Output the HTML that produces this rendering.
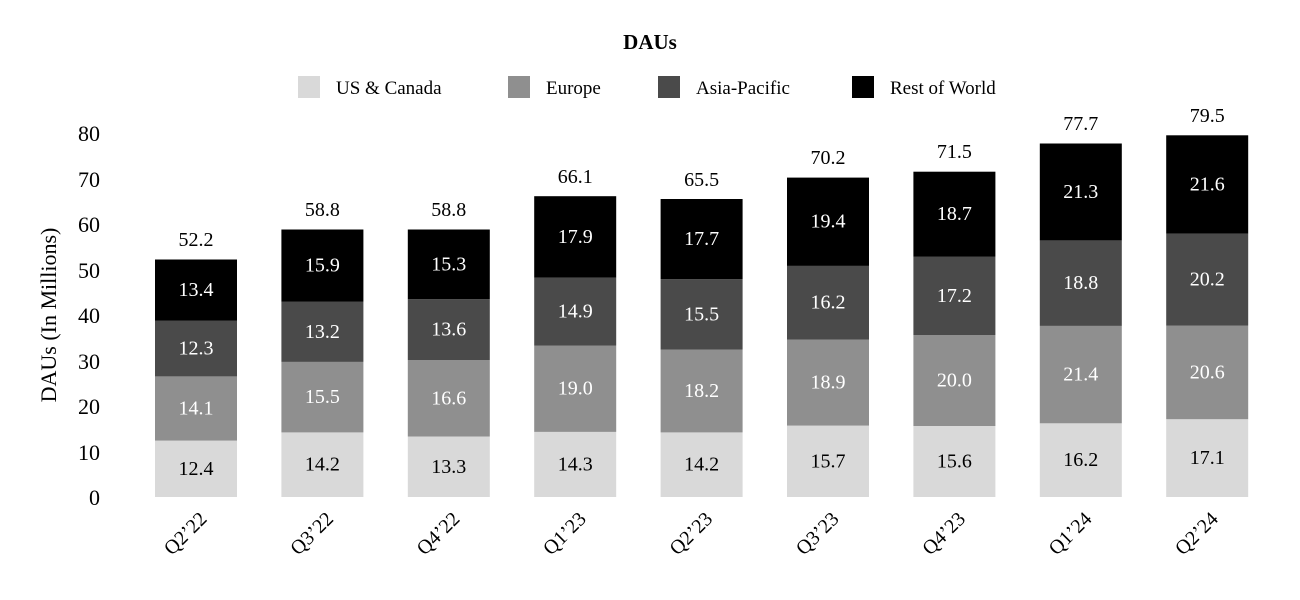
<!DOCTYPE html>
<html><head><meta charset="utf-8"><style>html,body{margin:0;padding:0;background:#fff}svg{display:block}</style></head>
<body>
<svg width="1300" height="600" xmlns="http://www.w3.org/2000/svg" font-family="Liberation Serif, serif">
<text x="650" y="49" text-anchor="middle" font-size="21" font-weight="bold">DAUs</text>
<rect x="298" y="76" width="22" height="22" fill="#d9d9d9"/><text x="336" y="94" font-size="19">US &amp; Canada</text>
<rect x="508" y="76" width="22" height="22" fill="#8f8f8f"/><text x="546" y="94" font-size="19">Europe</text>
<rect x="658" y="76" width="22" height="22" fill="#4a4a4a"/><text x="696" y="94" font-size="19">Asia-Pacific</text>
<rect x="852" y="76" width="22" height="22" fill="#000"/><text x="890" y="94" font-size="19">Rest of World</text>
<g font-size="22" text-anchor="end">
<text x="100" y="505">0</text><text x="100" y="460">10</text><text x="100" y="414">20</text><text x="100" y="369">30</text><text x="100" y="323">40</text><text x="100" y="278">50</text><text x="100" y="232">60</text><text x="100" y="187">70</text><text x="100" y="141">80</text>
</g>
<text transform="translate(56,315) rotate(-90)" text-anchor="middle" font-size="22">DAUs (In Millions)</text>
<g id="bars" font-size="20" text-anchor="middle" dominant-baseline="central">
<!-- bar0 -->
<rect x="155" y="440.6" width="82" height="56.4" fill="#d9d9d9"/><rect x="155" y="376.4" width="82" height="64.2" fill="#8f8f8f"/><rect x="155" y="320.5" width="82" height="55.9" fill="#4a4a4a"/><rect x="155" y="259.5" width="82" height="61" fill="#000"/>
<text x="196" y="469">12.4</text><text x="196" y="408.5" fill="#fff">14.1</text><text x="196" y="348.5" fill="#fff">12.3</text><text x="196" y="290" fill="#fff">13.4</text><text x="196" y="240">52.2</text>
<!-- bar1 -->
<rect x="281.4" y="432.4" width="82" height="64.6" fill="#d9d9d9"/><rect x="281.4" y="361.9" width="82" height="70.5" fill="#8f8f8f"/><rect x="281.4" y="301.8" width="82" height="60.1" fill="#4a4a4a"/><rect x="281.4" y="229.5" width="82" height="72.3" fill="#000"/>
<text x="322.4" y="464.7">14.2</text><text x="322.4" y="397.2" fill="#fff">15.5</text><text x="322.4" y="331.9" fill="#fff">13.2</text><text x="322.4" y="265.7" fill="#fff">15.9</text><text x="322.4" y="210">58.8</text>
<!-- bar2 -->
<rect x="407.8" y="436.5" width="82" height="60.5" fill="#d9d9d9"/><rect x="407.8" y="360" width="82" height="76.5" fill="#8f8f8f"/><rect x="407.8" y="299.1" width="82" height="60.9" fill="#4a4a4a"/><rect x="407.8" y="229.5" width="82" height="69.6" fill="#000"/>
<text x="448.8" y="466.8">13.3</text><text x="448.8" y="398.3" fill="#fff">16.6</text><text x="448.8" y="329.6" fill="#fff">13.6</text><text x="448.8" y="264.3" fill="#fff">15.3</text><text x="448.8" y="210">58.8</text>
<!-- bar3 -->
<rect x="534.2" y="431.9" width="82" height="65.1" fill="#d9d9d9"/><rect x="534.2" y="345.5" width="82" height="86.4" fill="#8f8f8f"/><rect x="534.2" y="277.7" width="82" height="67.8" fill="#4a4a4a"/><rect x="534.2" y="196.2" width="82" height="81.5" fill="#000"/>
<text x="575.2" y="464.5">14.3</text><text x="575.2" y="388.7" fill="#fff">19.0</text><text x="575.2" y="311.6" fill="#fff">14.9</text><text x="575.2" y="237" fill="#fff">17.9</text><text x="575.2" y="177">66.1</text>
<!-- bar4 -->
<rect x="660.6" y="432.4" width="82" height="64.6" fill="#d9d9d9"/><rect x="660.6" y="349.6" width="82" height="82.8" fill="#8f8f8f"/><rect x="660.6" y="279.1" width="82" height="70.5" fill="#4a4a4a"/><rect x="660.6" y="199" width="82" height="80.1" fill="#000"/>
<text x="701.6" y="464.7">14.2</text><text x="701.6" y="391" fill="#fff">18.2</text><text x="701.6" y="314.4" fill="#fff">15.5</text><text x="701.6" y="239" fill="#fff">17.7</text><text x="701.6" y="180">65.5</text>
<!-- bar5 -->
<rect x="787" y="425.6" width="82" height="71.4" fill="#d9d9d9"/><rect x="787" y="339.6" width="82" height="86" fill="#8f8f8f"/><rect x="787" y="265.9" width="82" height="73.7" fill="#4a4a4a"/><rect x="787" y="177.6" width="82" height="88.3" fill="#000"/>
<text x="828" y="461.3">15.7</text><text x="828" y="382.6" fill="#fff">18.9</text><text x="828" y="302.7" fill="#fff">16.2</text><text x="828" y="221.7" fill="#fff">19.4</text><text x="828" y="158">70.2</text>
<!-- bar6 -->
<rect x="913.4" y="426" width="82" height="71" fill="#d9d9d9"/><rect x="913.4" y="335" width="82" height="91" fill="#8f8f8f"/><rect x="913.4" y="256.8" width="82" height="78.2" fill="#4a4a4a"/><rect x="913.4" y="171.7" width="82" height="85.1" fill="#000"/>
<text x="954.4" y="461.5">15.6</text><text x="954.4" y="380.5" fill="#fff">20.0</text><text x="954.4" y="295.9" fill="#fff">17.2</text><text x="954.4" y="214.2" fill="#fff">18.7</text><text x="954.4" y="152">71.5</text>
<!-- bar7 -->
<rect x="1039.8" y="423.3" width="82" height="73.7" fill="#d9d9d9"/><rect x="1039.8" y="325.9" width="82" height="97.4" fill="#8f8f8f"/><rect x="1039.8" y="240.4" width="82" height="85.5" fill="#4a4a4a"/><rect x="1039.8" y="143.5" width="82" height="96.9" fill="#000"/>
<text x="1080.8" y="460.1">16.2</text><text x="1080.8" y="374.6" fill="#fff">21.4</text><text x="1080.8" y="283.1" fill="#fff">18.8</text><text x="1080.8" y="192" fill="#fff">21.3</text><text x="1080.8" y="124">77.7</text>
<!-- bar8 -->
<rect x="1166.2" y="419.2" width="82" height="77.8" fill="#d9d9d9"/><rect x="1166.2" y="325.5" width="82" height="93.7" fill="#8f8f8f"/><rect x="1166.2" y="233.6" width="82" height="91.9" fill="#4a4a4a"/><rect x="1166.2" y="135.3" width="82" height="98.3" fill="#000"/>
<text x="1207.2" y="458.1">17.1</text><text x="1207.2" y="372.3" fill="#fff">20.6</text><text x="1207.2" y="279.5" fill="#fff">20.2</text><text x="1207.2" y="184.4" fill="#fff">21.6</text><text x="1207.2" y="116">79.5</text>
</g>
<g font-size="20" text-anchor="end">
<text transform="translate(208,520) rotate(-45)">Q2’22</text>
<text transform="translate(334.4,520) rotate(-45)">Q3’22</text>
<text transform="translate(460.8,520) rotate(-45)">Q4’22</text>
<text transform="translate(587.2,520) rotate(-45)">Q1’23</text>
<text transform="translate(713.6,520) rotate(-45)">Q2’23</text>
<text transform="translate(840,520) rotate(-45)">Q3’23</text>
<text transform="translate(966.4,520) rotate(-45)">Q4’23</text>
<text transform="translate(1092.8,520) rotate(-45)">Q1’24</text>
<text transform="translate(1219.2,520) rotate(-45)">Q2’24</text>
</g>
</svg>
</body></html>
